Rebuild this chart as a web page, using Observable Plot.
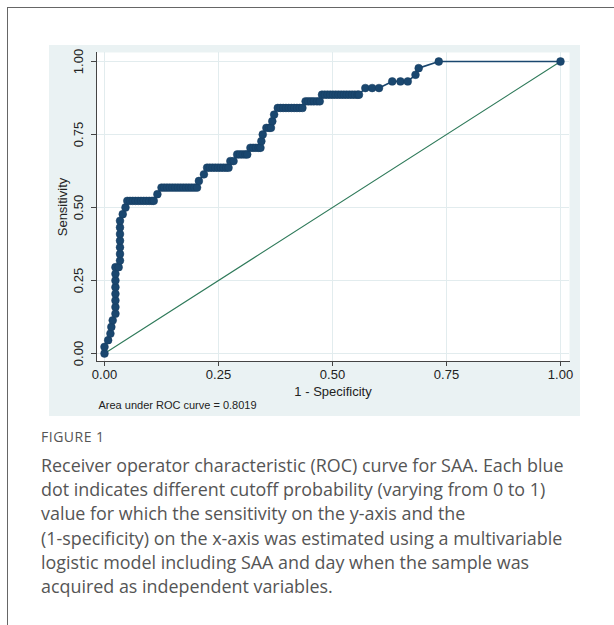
<!DOCTYPE html>
<html>
<head>
<meta charset="utf-8">
<script src="https://cdn.jsdelivr.net/npm/d3@7"></script>
<script src="https://cdn.jsdelivr.net/npm/@observablehq/plot@0.6"></script>
<style>
  html, body { margin: 0; padding: 0; background: #fff; }
  #box { position: absolute; left: 7px; top: 7px; width: 640px; height: 640px; border-top: 1px solid #666; border-left: 1px solid #666; }
  #chart { position: absolute; left: 49px; top: 45px; }
  #fig { position: absolute; left: 41px; top: 427px; font: 14px 'Open Sans', sans-serif; letter-spacing: 0.5px; color: #555; }
  #cap { position: absolute; left: 41px; top: 453px; width: 570px; font: 17.9px/24.2px 'Open Sans', sans-serif; color: #555; white-space: nowrap; }
</style>
</head>
<body>
<div id="box"></div>
<div id="chart"></div>
<div id="fig">FIGURE 1</div>
<div id="cap">Receiver operator characteristic (ROC) curve for SAA. Each blue<br>dot indicates different cutoff probability (varying from 0 to 1)<br>value for which the sensitivity on the y-axis and the<br>(1-specificity) on the x-axis was estimated using a multivariable<br>logistic model including SAA and day when the sample was<br>acquired as independent variables.</div>
<script>
// ROC points: 1 - specificity and sensitivity
const fpr = [
  0.000, 0.000, 0.008, 0.013, 0.015, 0.018,
  0.024, 0.024, 0.024, 0.024, 0.024, 0.024, 0.024, 0.024,
  0.031, 0.034, 0.034, 0.034, 0.034, 0.034, 0.034, 0.034,
  0.040, 0.046,
  0.050, 0.056, 0.062, 0.068, 0.074, 0.080, 0.086, 0.092, 0.098, 0.104, 0.108,
  0.116,
  0.125, 0.131, 0.137, 0.143, 0.149, 0.155, 0.161, 0.167, 0.173, 0.179, 0.185, 0.191, 0.197, 0.203,
  0.207, 0.218,
  0.225, 0.231, 0.237, 0.243, 0.249, 0.255, 0.261, 0.267, 0.272,
  0.276, 0.283,
  0.291, 0.297, 0.303, 0.309, 0.313,
  0.320, 0.326, 0.332, 0.338, 0.342,
  0.344, 0.347,
  0.355, 0.361, 0.365,
  0.368, 0.372,
  0.380, 0.386, 0.392, 0.398, 0.404, 0.410, 0.416, 0.422, 0.428, 0.434,
  0.441, 0.447, 0.453, 0.459, 0.466, 0.472,
  0.477, 0.483, 0.489, 0.495, 0.501, 0.507, 0.513, 0.519, 0.525, 0.531, 0.537, 0.543, 0.549, 0.555, 0.558,
  0.572, 0.587, 0.602,
  0.631, 0.649, 0.665,
  0.682, 0.689, 0.733, 1.000
];
const tpr = [
  0.0000, 0.0227, 0.0455, 0.0682, 0.0909, 0.1136,
  0.1364, 0.1591, 0.1818, 0.2045, 0.2273, 0.2500, 0.2727, 0.2955,
  0.2955, 0.3182, 0.3409, 0.3636, 0.3864, 0.4091, 0.4318, 0.4545,
  0.4773, 0.5000,
  0.5227, 0.5227, 0.5227, 0.5227, 0.5227, 0.5227, 0.5227, 0.5227, 0.5227, 0.5227, 0.5227,
  0.5455,
  0.5682, 0.5682, 0.5682, 0.5682, 0.5682, 0.5682, 0.5682, 0.5682, 0.5682, 0.5682, 0.5682, 0.5682, 0.5682, 0.5682,
  0.5909, 0.6136,
  0.6364, 0.6364, 0.6364, 0.6364, 0.6364, 0.6364, 0.6364, 0.6364, 0.6364,
  0.6591, 0.6591,
  0.6818, 0.6818, 0.6818, 0.6818, 0.6818,
  0.7045, 0.7045, 0.7045, 0.7045, 0.7045,
  0.7273, 0.7500,
  0.7727, 0.7727, 0.7727,
  0.7955, 0.8182,
  0.8409, 0.8409, 0.8409, 0.8409, 0.8409, 0.8409, 0.8409, 0.8409, 0.8409, 0.8409,
  0.8636, 0.8636, 0.8636, 0.8636, 0.8636, 0.8636,
  0.8864, 0.8864, 0.8864, 0.8864, 0.8864, 0.8864, 0.8864, 0.8864, 0.8864, 0.8864, 0.8864, 0.8864, 0.8864, 0.8864, 0.8864,
  0.9091, 0.9091, 0.9091,
  0.9318, 0.9318, 0.9318,
  0.9545, 0.9773, 1.0000, 1.0000
];
const refX = [0, 1];
const refY = [0, 1];
const tickValues = [0, 0.25, 0.5, 0.75, 1];
const tickLabels = ["0.00", "0.25", "0.50", "0.75", "1.00"];
const aucText = "Area under ROC curve = 0.8019";

const roc = fpr.map((x, i) => ({x, y: tpr[i]}));
const ref = refX.map((x, i) => ({x, y: refY[i]}));
const fmt = d => tickLabels[tickValues.indexOf(d)];

const navy = "#1a476f";
const chart = Plot.plot({
  width: 531,
  height: 371,
  marginLeft: 47,
  marginRight: 11,
  marginTop: 7,
  marginBottom: 55,
  style: {background: "#eaf2f3", fontFamily: "'Liberation Sans', Arial, sans-serif", fontSize: "13px", color: "#222", overflow: "visible"},
  x: {domain: [0, 1], insetLeft: 8, insetRight: 9},
  y: {domain: [0, 1], insetTop: 9, insetBottom: 8},
  marks: [
    Plot.frame({fill: "white"}),
    Plot.gridX(tickValues, {stroke: "#e2ecee", strokeOpacity: 1}),
    Plot.gridY(tickValues, {stroke: "#e2ecee", strokeOpacity: 1}),
    Plot.frame({anchor: "left", stroke: "#444"}),
    Plot.frame({anchor: "bottom", stroke: "#444"}),
    Plot.axisX(tickValues, {tickFormat: fmt, tickSize: 5, tickPadding: 3, stroke: "#444", label: "1 - Specificity", labelAnchor: "center", labelOffset: 34, labelArrow: "none"}),
    Plot.axisY(tickValues, {tickFormat: fmt, tickSize: 5, tickPadding: 9, tickRotate: -90, stroke: "#444", label: "Sensitivity", labelAnchor: "center", labelOffset: 39, labelArrow: "none"}),
    Plot.line(ref, {x: "x", y: "y", stroke: "#2f7a5a", strokeWidth: 1.1}),
    Plot.line(roc, {x: "x", y: "y", stroke: navy, strokeWidth: 1.6}),
    Plot.dot(roc, {x: "x", y: "y", r: 3.9, fill: navy, stroke: "#163d60", strokeWidth: 0.5}),
    Plot.text([aucText], {frameAnchor: "bottom-left", dx: 2, dy: 47, textAnchor: "start", fontSize: 11, fill: "#222"})
  ]
});
document.getElementById("chart").appendChild(chart);
</script>
</body>
</html>
